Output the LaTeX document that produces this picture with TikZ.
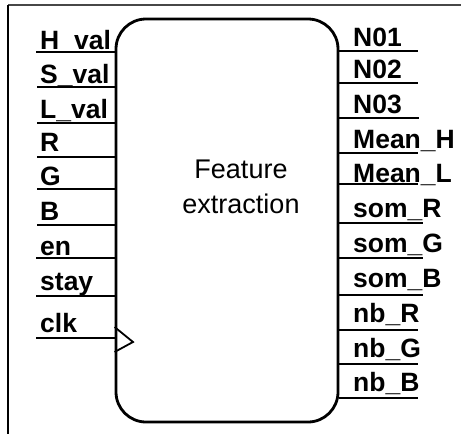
\documentclass[tikz,border=0pt]{standalone}
\usepackage{fontspec}
\setmainfont{Liberation Sans}
\begin{document}
\begin{tikzpicture}[x=1pt,y=-1pt,
  pin/.style={line width=1.8pt},
  pinlabel/.style={font=\fontsize{26.5}{30}\selectfont\bfseries, inner sep=0pt},
  block/.style={draw, line width=2.8pt, rounded corners=30pt, minimum width=222pt, minimum height=403pt, inner sep=0pt},
  title/.style={font=\fontsize{27}{32}\selectfont, inner sep=0pt}]
  % canvas
  \path[use as bounding box, fill=white] (0,0) rectangle (461,434);
  \draw[line width=1.5pt, draw=black!72] (8,5) -- (461,5);
  \draw[line width=1.3pt] (8,5) -- (8,434);

  % the block
  \node[block] (fe) at (227,220.5) {};
  \node[title, anchor=base] (ttl1) at (241,178) {Feature};
  \node[title, anchor=base] (ttl2) at (241,213) {extraction};

  % inputs: name / line y / label baseline / line start x
  \foreach \nm/\ly/\by/\sx/\txt in {
      hval/52/49/36/H\_val, sval/87/83/37/S\_val, lval/123/118/37/L\_val,
      r/157/151/37/R, g/189/185/37/G, b/225/220/37/B,
      en/258/255/36/en, stay/296/290/36/stay, clk/338/332/36/clk}{
    \coordinate (in-\nm) at (\sx,\ly);
    \draw[pin] (in-\nm) -- (in-\nm -| fe.west);
    \node[pinlabel, anchor=base west] (lbl-\nm) at (40,\by) {\txt};
  }

  % clock marker
  \coordinate (ck-top) at (116,327);
  \coordinate (ck-tip) at (133,342);
  \coordinate (ck-bot) at (116,352);
  \draw[pin] (ck-top -| fe.west) -- (ck-tip) -- (ck-bot -| fe.west);

  % outputs: name / line y / label baseline / line end x
  \foreach \nm/\ly/\by/\ex/\txt in {
      n1/51/46/418/N01, n2/83/78/418/N02, n3/118/113/419/N03,
      mh/153/148/418/Mean\_H, ml/184/182/418/Mean\_L,
      sr/223/217/423/som\_R, sg/258/252/423/som\_G, sb/295/287/423/som\_B,
      nr/330/322/418/nb\_R, ng/364/357/418/nb\_G, nb/398/391/418/nb\_B}{
    \coordinate (out-\nm) at (\ex,\ly);
    \draw[pin] (out-\nm -| fe.east) -- (out-\nm);
    \node[pinlabel, anchor=base west] (lbl-\nm) at (353,\by) {\txt};
  }
\end{tikzpicture}
\end{document}
